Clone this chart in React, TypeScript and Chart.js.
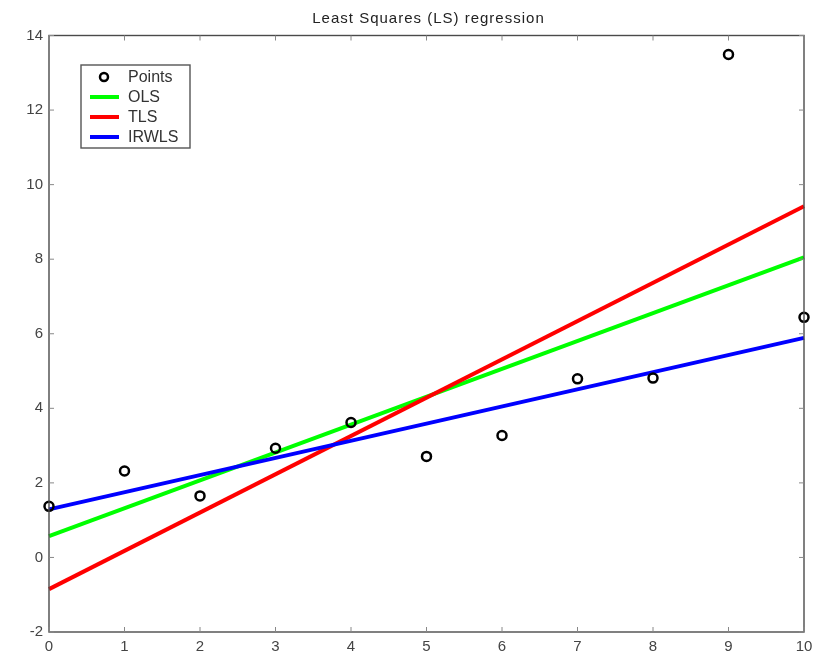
import React, { useEffect, useRef } from "react";
import { Chart, registerables } from "chart.js";

Chart.register(...registerables);

const xValues = [0, 1, 2, 3, 4, 5, 6, 7, 8, 9, 10];
const pointValues = [1.37, 2.32, 1.65, 2.93, 3.62, 2.71, 3.27, 4.79, 4.81, 13.49, 6.44];
const lineX = [0, 10];
const olsValues = [0.57, 8.05];
const tlsValues = [-0.85, 9.42];
const irwlsValues = [1.29, 5.89];
const legendLabels = ["Points", "OLS", "TLS", "IRWLS"];
const titleText = "Least Squares (LS) regression";

const FONT = "'Liberation Sans', Arial, Helvetica, sans-serif";

const boxPlugin = {
  id: "boxTicks",
  afterDraw(chart: any) {
    const { ctx, chartArea: a, scales } = chart;
    ctx.save();
    // title
    ctx.font = "15px " + FONT;
    ctx.fillStyle = "#222";
    ctx.textAlign = "center";
    ctx.textBaseline = "alphabetic";
    try {
      (ctx as any).letterSpacing = "1px";
    } catch (e) {}
    ctx.fillText(titleText, (a.left + a.right) / 2 + 2, 23);
    try {
      (ctx as any).letterSpacing = "0px";
    } catch (e) {}

    ctx.strokeStyle = "#4a4a4a";
    ctx.lineWidth = 1.4;
    ctx.strokeRect(a.left, a.top, a.right - a.left, a.bottom - a.top);
    ctx.lineWidth = 1;
    ctx.strokeStyle = "#888";
    const L = 5;
    scales.x.ticks.forEach((t: any) => {
      const px = scales.x.getPixelForValue(t.value);
      ctx.beginPath();
      ctx.moveTo(px, a.bottom);
      ctx.lineTo(px, a.bottom - L);
      ctx.moveTo(px, a.top);
      ctx.lineTo(px, a.top + L);
      ctx.stroke();
    });
    scales.y.ticks.forEach((t: any) => {
      const py = scales.y.getPixelForValue(t.value);
      ctx.beginPath();
      ctx.moveTo(a.left, py);
      ctx.lineTo(a.left + L, py);
      ctx.moveTo(a.right, py);
      ctx.lineTo(a.right - L, py);
      ctx.stroke();
    });

    // legend box
    const bx = 81, by = 65, bw = 109, bh = 83;
    ctx.fillStyle = "#ffffff";
    ctx.fillRect(bx, by, bw, bh);
    ctx.strokeStyle = "#555";
    ctx.lineWidth = 1.4;
    ctx.strokeRect(bx, by, bw, bh);
    ctx.font = "16px " + FONT;
    ctx.textBaseline = "middle";
    ctx.textAlign = "left";
    const colors = ["#000000", "#00ff00", "#ff0000", "#0000ff"];
    legendLabels.forEach((lab, i) => {
      const y = 77 + i * 20;
      if (i === 0) {
        ctx.beginPath();
        ctx.arc(104, y, 4, 0, Math.PI * 2);
        ctx.strokeStyle = "#000";
        ctx.lineWidth = 2.5;
        ctx.stroke();
      } else {
        ctx.beginPath();
        ctx.moveTo(90, y);
        ctx.lineTo(119, y);
        ctx.strokeStyle = colors[i];
        ctx.lineWidth = 4;
        ctx.stroke();
      }
      ctx.fillStyle = "#333";
      ctx.fillText(lab, 128, y + 1);
    });
    ctx.restore();
  },
};

export default function App() {
  const ref = useRef<HTMLCanvasElement | null>(null);
  useEffect(() => {
    if (!ref.current) return;
    const mk = (ys: number[]) => lineX.map((x, i) => ({ x, y: ys[i] }));
    const chart = new Chart(ref.current, {
      type: "scatter",
      data: {
        datasets: [
          {
            label: legendLabels[0],
            data: xValues.map((x, i) => ({ x, y: pointValues[i] })),
            showLine: false,
            pointRadius: 4.5,
            pointBorderWidth: 2.5,
            pointBorderColor: "#000",
            pointBackgroundColor: "rgba(255,255,255,0)",
            order: 0,
            clip: false,
          } as any,
          {
            label: legendLabels[1],
            data: mk(olsValues),
            showLine: true,
            borderColor: "#00ff00",
            borderWidth: 4,
            pointRadius: 0,
            order: 3,
            clip: false,
          },
          {
            label: legendLabels[2],
            data: mk(tlsValues),
            showLine: true,
            borderColor: "#ff0000",
            borderWidth: 4,
            pointRadius: 0,
            order: 2,
            clip: false,
          },
          {
            label: legendLabels[3],
            data: mk(irwlsValues),
            showLine: true,
            borderColor: "#0000ff",
            borderWidth: 4,
            pointRadius: 0,
            order: 1,
            clip: false,
          },
        ],
      },
      options: {
        responsive: false,
        animation: false,
        events: [],
        layout: { padding: { left: 0, right: 30, top: 35.5, bottom: 0 } },
        plugins: {
          legend: { display: false },
          tooltip: { enabled: false },
          title: { display: false },
        },
        scales: {
          x: {
            type: "linear",
            min: 0,
            max: 10,
            grid: { display: false, drawTicks: false },
            border: { display: false },
            ticks: {
              stepSize: 1,
              padding: 6,
              color: "#444",
              font: { family: FONT, size: 15 },
              maxRotation: 0,
            },
            afterFit: (s: any) => {
              s.height = 24;
            },
          },
          y: {
            type: "linear",
            min: -2,
            max: 14,
            grid: { display: false, drawTicks: false },
            border: { display: false },
            ticks: {
              stepSize: 2,
              padding: 6,
              color: "#444",
              font: { family: FONT, size: 15 },
            },
            afterFit: (s: any) => {
              s.width = 49;
            },
          },
        },
      },
      plugins: [boxPlugin],
    });
    return () => chart.destroy();
  }, []);
  return (
    <div style={{ position: "absolute", left: 0, top: 0, width: 834, height: 656 }}>
      <canvas ref={ref} width={834} height={656} />
    </div>
  );
}
